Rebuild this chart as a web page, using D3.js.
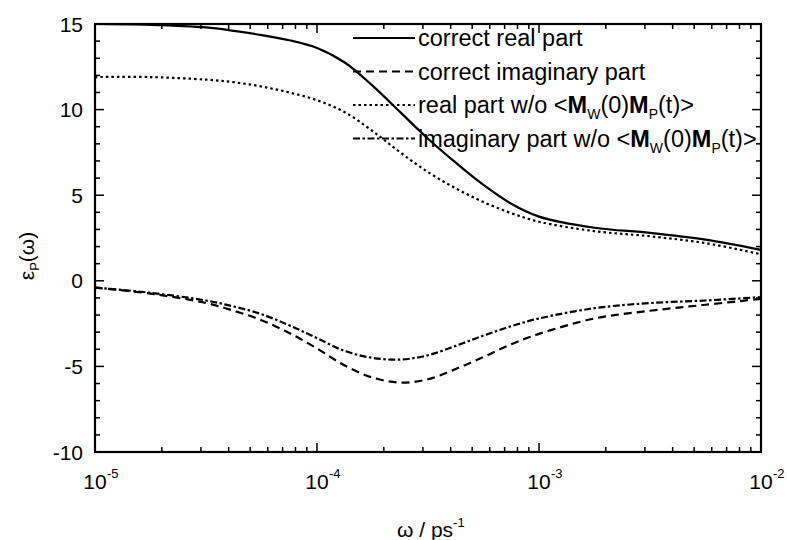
<!DOCTYPE html>
<html><head><meta charset="utf-8">
<script src="https://cdn.jsdelivr.net/npm/d3@7"></script>
<style>body{margin:0;background:#fff}svg{display:block}text{font-family:"Liberation Sans",Arial,sans-serif;fill:#000}</style>
</head><body><svg id="c" width="787" height="540"></svg>
<script>
// log10(omega) sample positions
const logW = [-5,-4.75,-4.5,-4.375,-4.25,-4.125,-4,-3.875,-3.75,-3.625,-3.5,-3.375,-3.25,-3.125,-3,-2.75,-2.5,-2.25,-2];
const realCorrect = [15.0,14.95,14.8,14.6,14.35,14.05,13.6,12.75,11.4,9.85,8.3,6.9,5.6,4.5,3.75,3.1,2.8,2.4,1.8];
const imagCorrect = [-0.4,-0.75,-1.3,-1.75,-2.3,-3.05,-3.95,-4.95,-5.65,-5.95,-5.75,-5.15,-4.45,-3.7,-3.1,-2.2,-1.75,-1.4,-1.05];
const realWo = [11.9,11.9,11.75,11.6,11.35,11.0,10.55,9.85,8.75,7.5,6.35,5.4,4.6,3.95,3.45,2.9,2.6,2.2,1.55];
const imagWo = [-0.4,-0.7,-1.15,-1.5,-1.95,-2.6,-3.35,-4.1,-4.5,-4.6,-4.35,-3.8,-3.2,-2.65,-2.2,-1.6,-1.3,-1.15,-0.95];
const yTicks = [-10,-5,0,5,10,15];
const xDecades = [-5,-4,-3,-2];

const svg = d3.select("#c");
const L=95, R=761, T=24, B=452;
const x = d3.scaleLog().domain([1e-5,1e-2]).range([L,R]);
const y = d3.scaleLinear().domain([-10,15]).range([B,T]);

const series = [
  {name:"correct real part", v:realCorrect, dash:null},
  {name:"correct imaginary part", v:imagCorrect, dash:"8,5"},
  {name:"real part w/o", v:realWo, dash:"2.5,3"},
  {name:"imaginary part w/o", v:imagWo, dash:"7,2.5,2.5,2.5"}
];
const line = d3.line().x(d=>x(Math.pow(10,d[0]))).y(d=>y(d[1])).curve(d3.curveCatmullRom.alpha(0.5));
svg.append("clipPath").attr("id","cp").append("rect").attr("x",L).attr("y",T).attr("width",R-L).attr("height",B-T);
series.forEach(s=>{
  svg.append("path").attr("clip-path","url(#cp)").attr("d",line(logW.map((l,i)=>[l,s.v[i]])))
    .attr("fill","none").attr("stroke","#000").attr("stroke-width",2.2)
    .attr("stroke-dasharray",s.dash);
});

// ticks
const tk = svg.append("g").attr("stroke","#000").attr("stroke-width",1.5);
for(let v=-10; v<=15; v++){
  const len = v%5===0?9:5;
  tk.append("line").attr("x1",L).attr("x2",L+len).attr("y1",y(v)).attr("y2",y(v));
  tk.append("line").attr("x1",R).attr("x2",R-len).attr("y1",y(v)).attr("y2",y(v));
}
xDecades.forEach((d,i)=>{
  const base=Math.pow(10,d);
  const mults = i<xDecades.length-1 ? [1,2,3,4,5,6,7,8,9] : [1];
  mults.forEach(m=>{
    const xv = x(base*m), len = m===1?9:5;
    tk.append("line").attr("x1",xv).attr("x2",xv).attr("y1",B).attr("y2",B-len);
    tk.append("line").attr("x1",xv).attr("x2",xv).attr("y1",T).attr("y2",T+len);
  });
});
svg.append("rect").attr("x",L).attr("y",T).attr("width",R-L).attr("height",B-T)
  .attr("fill","none").attr("stroke","#000").attr("stroke-width",2.2);

// y tick labels
yTicks.forEach(v=>{
  svg.append("text").attr("x",83).attr("y",y(v)+7.5).attr("text-anchor","end")
    .attr("font-size",21).text(v);
});
// x tick labels
xDecades.forEach(d=>{
  const g = svg.append("g").attr("transform",`translate(${x(Math.pow(10,d))},489)`);
  g.append("text").attr("text-anchor","middle").attr("font-size",21).text("10");
  g.append("text").attr("x",12).attr("y",-11).attr("font-size",13).text(d);
});
// axis titles
const xt = svg.append("text").attr("x",397).attr("y",537).attr("font-size",21);
xt.append("tspan").text("ω / ps");
xt.append("tspan").attr("dy",-10).attr("font-size",13).text("-1");
const yt = svg.append("text").attr("transform","translate(34,256) rotate(-90)").attr("text-anchor","middle").attr("font-size",21);
yt.append("tspan").text("ε");
yt.append("tspan").attr("dy",5).attr("font-size",13).text("P");
yt.append("tspan").attr("dy",-5).text("(ω)");

// legend
const rows=[38,71.5,105,138.5];
series.forEach((s,i)=>{
  svg.append("line").attr("x1",353).attr("x2",415).attr("y1",rows[i]).attr("y2",rows[i])
    .attr("stroke","#000").attr("stroke-width",2.2).attr("stroke-dasharray",s.dash);
  const t = svg.append("text").attr("x",418).attr("y",rows[i]+8).attr("font-size",23.5);
  t.append("tspan").text(s.name);
  if(i>=2){
    t.append("tspan").text(" <");
    t.append("tspan").attr("font-weight","bold").text("M");
    t.append("tspan").attr("dy",6).attr("font-size",14).text("W");
    t.append("tspan").attr("dy",-6).text("(0)");
    t.append("tspan").attr("font-weight","bold").text("M");
    t.append("tspan").attr("dy",6).attr("font-size",14).text("P");
    t.append("tspan").attr("dy",-6).text("(t)>");
  }
});
</script></body></html>
